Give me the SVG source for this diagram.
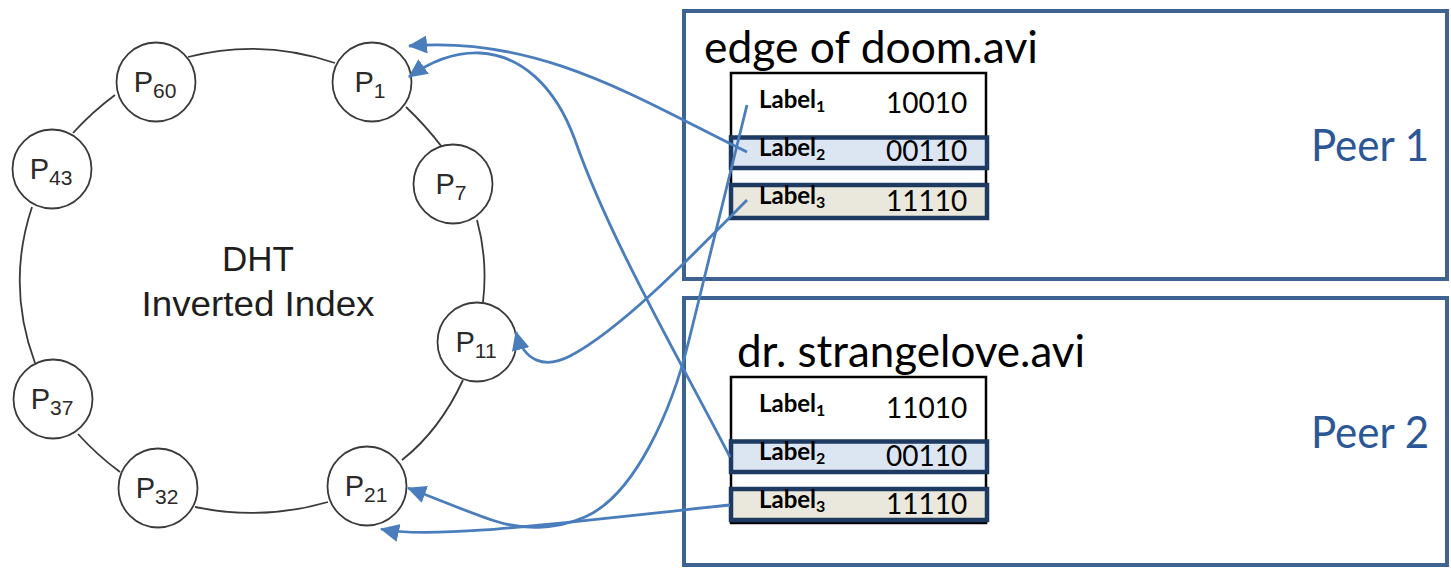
<svg xmlns="http://www.w3.org/2000/svg" width="1451" height="568" viewBox="0 0 1451 568">
<defs>
<marker id="ah" viewBox="0 0 19 18" refX="18" refY="9" markerWidth="19" markerHeight="18" markerUnits="userSpaceOnUse" orient="auto">
<path d="M0,0 L19,9 L0,18 z" fill="#4a7dbb"/>
</marker>
<style>
.ring{fill:none;stroke:#3a3a3a;stroke-width:1.8}
.node{fill:#fff;stroke:#3a3a3a;stroke-width:1.8}
.pl{font-family:"Liberation Sans",Arial,sans-serif;font-size:29px;fill:#2a2a2a;text-anchor:middle}
.sub{font-size:21px}
.dht{font-family:"Liberation Sans",Arial,sans-serif;font-size:35px;fill:#1e1e1e;text-anchor:middle}
.peer{fill:none;stroke:#3e6393;stroke-width:4}
.ptxt{font-family:Lato,"Open Sans",sans-serif;font-size:45px;fill:#2b5797}
.fname{font-family:Lato,"Open Sans",sans-serif;font-size:45px;fill:#000}
.tbl{fill:#fff;stroke:#000;stroke-width:2.5}
.r2{fill:#dce6f2;stroke:#1f3a60;stroke-width:4.5}
.r3{fill:#eae8dc;stroke:#1f3a60;stroke-width:4.5}
.lab{font-family:Lato,"Open Sans",sans-serif;font-size:24px;font-weight:bold;fill:#000}
.ls{font-size:16px}
.num{font-family:Lato,"Open Sans",sans-serif;font-size:28px;fill:#000}
.conn{fill:none;stroke:#4a7dbb;stroke-width:2.8;marker-end:url(#ah)}
</style>
</defs>

<g id="ring">
<path class="ring" d="M188,57 Q262,38 335,63"/>
<path class="ring" d="M406,107 Q425,125 442,147"/>
<path class="ring" d="M477,220 Q488,260 483,302"/>
<path class="ring" d="M463,380 Q440,430 402,460"/>
<path class="ring" d="M328,502 Q262,521 195,507"/>
<path class="ring" d="M120,472 Q97,455 78,434"/>
<path class="ring" d="M35,363 Q6,285 32,207"/>
<path class="ring" d="M73,133 Q92,112 115,95"/>
</g>
<g id="dht-label">
<text class="dht" x="258" y="271">DHT</text>
<text class="dht" x="258" y="316" textLength="233" lengthAdjust="spacingAndGlyphs">Inverted Index</text>
</g>

<g id="P60"><circle class="node" cx="156" cy="82" r="39.5"/><text class="pl" x="155" y="92">P<tspan class="sub" dy="6">60</tspan></text></g>
<g id="P1"><circle class="node" cx="372" cy="82" r="39.5"/><text class="pl" x="370" y="92">P<tspan class="sub" dy="6">1</tspan></text></g>
<g id="P7"><circle class="node" cx="453" cy="184" r="39.5"/><text class="pl" x="451" y="194">P<tspan class="sub" dy="6">7</tspan></text></g>
<g id="P43"><circle class="node" cx="52" cy="169" r="39.5"/><text class="pl" x="51" y="179">P<tspan class="sub" dy="6">43</tspan></text></g>
<g id="P11"><circle class="node" cx="477" cy="342" r="39.5"/><text class="pl" x="476" y="352">P<tspan class="sub" dy="6">11</tspan></text></g>
<g id="P37"><circle class="node" cx="53" cy="399" r="39.5"/><text class="pl" x="52" y="409">P<tspan class="sub" dy="6">37</tspan></text></g>
<g id="P32"><circle class="node" cx="158" cy="488" r="39.5"/><text class="pl" x="157" y="498">P<tspan class="sub" dy="6">32</tspan></text></g>
<g id="P21"><circle class="node" cx="367" cy="486" r="39.5"/><text class="pl" x="366" y="496">P<tspan class="sub" dy="6">21</tspan></text></g>

<g id="peer1">
<rect class="peer" x="684" y="11" width="763" height="268"/>
<text class="ptxt" x="1311" y="161" textLength="118" lengthAdjust="spacingAndGlyphs">Peer 1</text>
<text class="fname" x="704" y="63" textLength="334" lengthAdjust="spacingAndGlyphs">edge of doom.avi</text>
<rect class="tbl" x="731" y="73" width="255" height="145"/>
<rect class="r2" x="731" y="137.5" width="256" height="30.5"/>
<rect class="r3" x="731" y="185" width="256" height="33"/>
<text class="lab" x="759" y="108">Label<tspan class="ls" dy="4">1</tspan></text>
<text class="num" x="886" y="113">10010</text>
<text class="lab" x="759" y="156">Label<tspan class="ls" dy="4">2</tspan></text>
<text class="num" x="886" y="161">00110</text>
<text class="lab" x="759" y="204">Label<tspan class="ls" dy="4">3</tspan></text>
<text class="num" x="886" y="210.5">11110</text>
</g>

<g id="peer2">
<rect class="peer" x="684" y="298" width="763" height="267"/>
<text class="ptxt" x="1311" y="448" textLength="118" lengthAdjust="spacingAndGlyphs">Peer 2</text>
<text class="fname" x="737" y="366.5" textLength="348" lengthAdjust="spacingAndGlyphs">dr. strangelove.avi</text>
<rect class="tbl" x="731" y="377" width="255" height="146"/>
<rect class="r2" x="731" y="441.5" width="256" height="30.5"/>
<rect class="r3" x="731" y="489" width="256" height="31"/>
<text class="lab" x="759" y="411.5">Label<tspan class="ls" dy="4">1</tspan></text>
<text class="num" x="886" y="418">11010</text>
<text class="lab" x="759" y="460">Label<tspan class="ls" dy="4">2</tspan></text>
<text class="num" x="886" y="465.5">00110</text>
<text class="lab" x="759" y="508">Label<tspan class="ls" dy="4">3</tspan></text>
<text class="num" x="886" y="514">11110</text>
</g>

<g id="connectors">
<path class="conn" d="M747,152 C640,100 540,35 409,46"/>
<path class="conn" d="M730,457 C680,360 610,240 575,140 C555,85 520,55 480,53 C455,52 430,62 409,77"/>
<path class="conn" d="M747,200 C690,258 620,330 570,356 C545,369 524,362 516,332"/>
<path class="conn" d="M747,105 L689,340 C672,410 635,495 585,517 C555,530 522,530 495,521 C470,513 440,500 408,488"/>
<path class="conn" d="M730,505 C560,523 430,540 381,529"/>
</g>
</svg>
